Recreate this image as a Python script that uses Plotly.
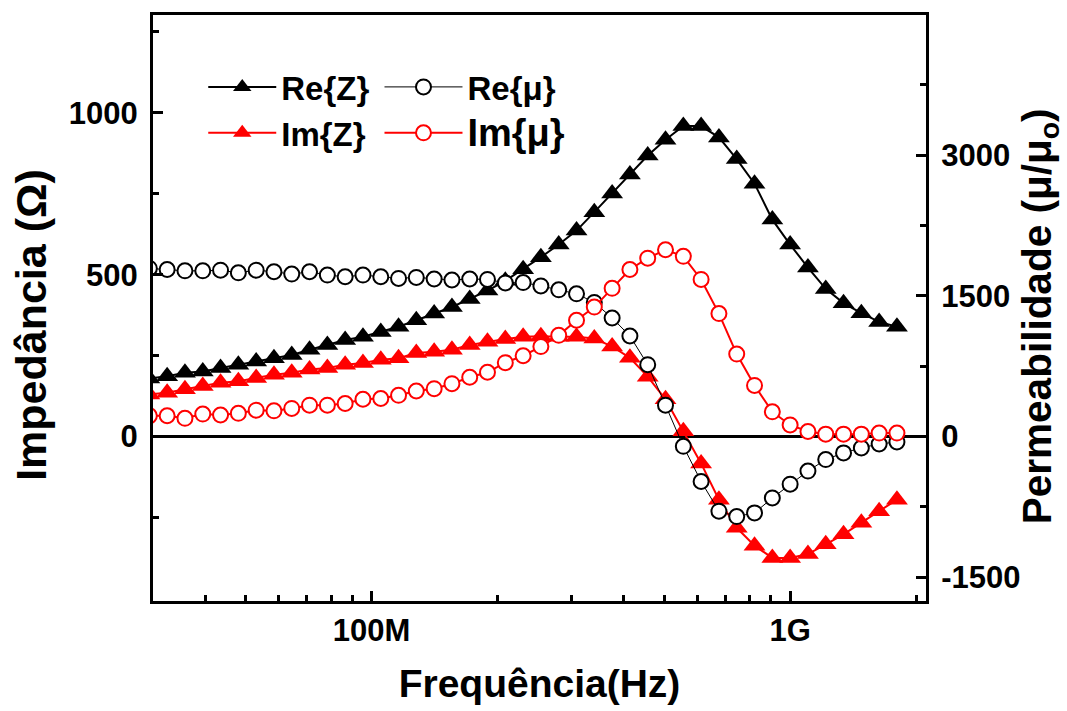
import plotly.graph_objects as go

# ---- data ----
freq_mhz = [29.45, 32.48, 35.82, 39.51, 43.57, 48.05, 53.00, 58.45, 64.46, 71.09,
            78.41, 86.47, 95.37, 105.2, 116.0, 127.9, 141.1, 155.6, 171.6, 189.2,
            208.7, 230.2, 253.8, 280.0, 308.8, 340.5, 375.6, 414.2, 456.8, 503.8,
            555.7, 612.8, 675.9, 745.4, 822.1, 906.7, 1000.0, 1102.9, 1216.4, 1341.5,
            1479.5, 1631.7, 1799.6]

re_z = [179, 186, 197, 201, 212, 222, 232, 242, 252, 268,
        283, 298, 308, 323, 339, 359, 380, 400, 425, 451,
        481, 517, 554, 593, 636, 693, 751, 809, 868, 917,
        959, 959, 924, 857, 781, 670, 593, 522, 456, 412,
        381, 354, 339]

im_z = [130, 135, 146, 156, 166, 171, 181, 191, 197, 207,
        212, 222, 227, 237, 242, 258, 262, 268, 283, 293,
        301, 308, 310, 308, 308, 303, 278, 243, 185, 115,
        16, -83, -195, -282, -337, -375, -375, -363, -333, -302,
        -266, -231, -195]

re_mu = [1793, 1781, 1767, 1767, 1774, 1746, 1774, 1757, 1732, 1757,
         1722, 1704, 1722, 1704, 1686, 1697, 1680, 1669, 1680, 1675,
         1638, 1642, 1606, 1564, 1522, 1430, 1264, 1072, 766, 334,
         -105, -480, -797, -854, -815, -656, -509, -369, -246, -175,
         -122, -80, -59]

im_mu = [221, 221, 194, 239, 229, 247, 281, 274, 299, 334,
         334, 352, 397, 405, 439, 485, 510, 563, 632, 685,
         787, 861, 959, 1079, 1240, 1380, 1580, 1781, 1902, 1992,
         1922, 1675, 1311, 879, 545, 263, 123, 53, 25, 25,
         25, 36, 36]

series_names = ["Re{Z}", "Im{Z}", "Re{\u03bc}", "Im{\u03bc}"]

x_tickvals = [1e8, 1e9]
x_ticktext = ["100M", "1G"]
x_minor_vals = [3e7, 4e7, 5e7, 6e7, 7e7, 8e7, 9e7,
                2e8, 3e8, 4e8, 5e8, 6e8, 7e8, 8e8, 9e8, 2e9]
y1_tickvals = [0, 500, 1000]
y1_ticktext = ["0", "500", "1000"]
y1_minor_vals = [-250, 250, 750, 1250]
y2_tickvals = [-1500, 0, 1500, 3000]
y2_ticktext = ["-1500", "0", "1500", "3000"]
y2_minor_vals = [-750, 750, 2250, 3750]

x_title = "Frequência(Hz)"
y1_title = "Impedância (\u03a9)"
y2_title = "Permeabilidade (\u03bc/\u03bc<sub>o</sub>)"

freq_hz = [f * 1e6 for f in freq_mhz]

FONT = "Liberation Sans, Arial, Helvetica, sans-serif"

fig = go.Figure()
fig.add_trace(go.Scatter(
    x=freq_hz, y=re_z, name=series_names[0], mode="lines+markers",
    line=dict(color="black", width=2),
    marker=dict(symbol="triangle-up", size=19, color="black"),
    legend="legend"))
fig.add_trace(go.Scatter(
    x=freq_hz, y=im_z, name=series_names[1], mode="lines+markers",
    line=dict(color="red", width=2),
    marker=dict(symbol="triangle-up", size=19, color="red"),
    legend="legend"))
fig.add_trace(go.Scatter(
    x=freq_hz, y=re_mu, name=series_names[2], mode="lines+markers", yaxis="y2",
    line=dict(color="black", width=1),
    marker=dict(symbol="circle", size=15, color="white",
                line=dict(color="black", width=2)),
    legend="legend2"))
fig.add_trace(go.Scatter(
    x=freq_hz, y=im_mu,
    name="<span style='font-size:38px'>" + series_names[3] + "</span>",
    mode="lines+markers", yaxis="y2",
    line=dict(color="red", width=2),
    marker=dict(symbol="circle", size=15, color="white",
                line=dict(color="red", width=2)),
    legend="legend2"))

axis_common = dict(
    showline=True, linewidth=3, linecolor="black", showgrid=False,
    ticks="inside", ticklen=10, tickwidth=2.5, tickcolor="black",
    tickfont=dict(family=FONT, size=31, color="black", weight="bold"),
)

fig.update_layout(
    width=1067, height=711,
    margin=dict(l=153, r=141, t=15, b=103),
    paper_bgcolor="white", plot_bgcolor="white",
    font=dict(family=FONT, size=31, color="black", weight="bold"),
    showlegend=True,
    xaxis=dict(
        type="log", range=[7.4778, 9.3246],
        tickmode="array", tickvals=x_tickvals, ticktext=x_ticktext,
        mirror=True, zeroline=False,
        minor=dict(tickmode="array", tickvals=x_minor_vals, ticks="inside",
                   ticklen=6, tickwidth=2.5, tickcolor="black", showgrid=False),
        title=dict(text=x_title,
                   font=dict(family=FONT, size=39, color="black", weight="bold"),
                   standoff=23),
        **axis_common),
    yaxis=dict(
        range=[-508, 1302],
        tickmode="array", tickvals=y1_tickvals, ticktext=y1_ticktext,
        zeroline=True, zerolinecolor="black", zerolinewidth=2.5,
        minor=dict(tickmode="array", tickvals=y1_minor_vals, ticks="inside",
                   ticklen=6, tickwidth=2.5, tickcolor="black", showgrid=False),
        ticklabelstandoff=6,
        **axis_common),
    yaxis2=dict(
        overlaying="y", side="right", range=[-1755, 4496],
        tickmode="array", tickvals=y2_tickvals, ticktext=y2_ticktext,
        zeroline=False,
        minor=dict(tickmode="array", tickvals=y2_minor_vals, ticks="inside",
                   ticklen=6, tickwidth=2.5, tickcolor="black", showgrid=False),
        ticklabelstandoff=6,
        **axis_common),
    legend=dict(x=0.065, y=0.925, xanchor="left", yanchor="top",
                bgcolor="rgba(0,0,0,0)", borderwidth=0, itemwidth=68,
                font=dict(family=FONT, size=33, color="black", weight="bold"),
                tracegroupgap=0),
    legend2=dict(x=0.293, y=0.925, xanchor="left", yanchor="top",
                 bgcolor="rgba(0,0,0,0)", borderwidth=0, itemwidth=78,
                 font=dict(family=FONT, size=33, color="black", weight="bold"),
                 tracegroupgap=0),
    annotations=[
        dict(text=y1_title, xref="paper", yref="paper", x=-0.158, y=0.471,
             xanchor="center", yanchor="middle", textangle=-90, showarrow=False,
             font=dict(family=FONT, size=43, color="black", weight="bold")),
        dict(text=y2_title, xref="paper", yref="paper", x=1.1475, y=0.486,
             xanchor="center", yanchor="middle", textangle=-90, showarrow=False,
             font=dict(family=FONT, size=40.5, color="black", weight="bold")),
    ],
)

fig.write_html("out.html")
